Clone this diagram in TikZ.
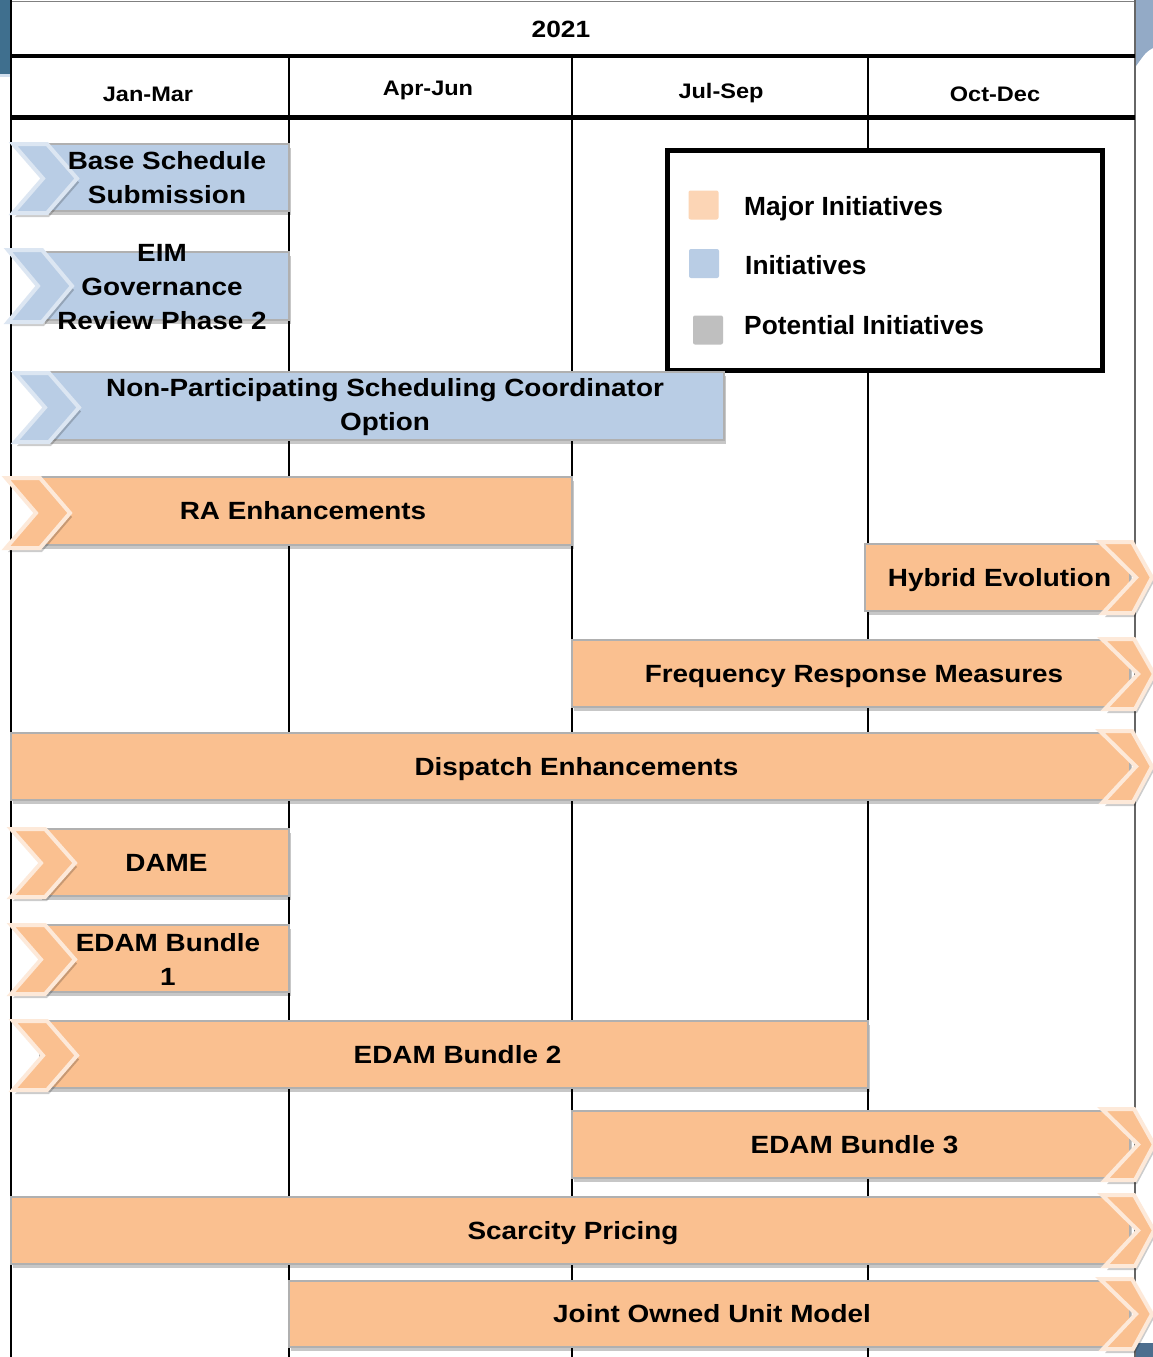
\documentclass[tikz,border=0pt]{standalone}
\usepackage{fontspec}
\setmainfont{Liberation Sans}
\newfontfamily\wideface[FakeStretch=1.12]{Liberation Sans}
\usetikzlibrary{shadows}
\definecolor{orbar}{HTML}{FAC090}
\definecolor{orlight}{HTML}{FDE9D9}
\definecolor{blbar}{HTML}{B9CDE5}
\definecolor{bllight}{HTML}{DCE6F2}
\definecolor{legor}{HTML}{FCD5B5}
\definecolor{leggr}{HTML}{BFBFBF}
\definecolor{bordgray}{HTML}{B0B0B0}
\definecolor{darkteal}{HTML}{3F6F8E}
\definecolor{swoosh}{HTML}{93AAC6}
\definecolor{darkblue}{HTML}{4D6E8E}
\newcommand{\lchev}[5]{\draw[chevron, fill=#4, draw=#5] (#1,#2) -- (#1+34,#2) -- (#1+64,{(#2+#3)/2}) -- (#1+34,#3) -- (#1,#3) -- (#1+30,{(#2+#3)/2}) -- cycle;}
\newcommand{\rchev}[5]{\draw[chevron, fill=#4, draw=#5] (#1,#2) -- (#1+32,#2) -- (#1+52,{(#2+#3)/2}) -- (#1+33,#3) -- (#1+3,#3) -- (#1+36,{(#2+#3)/2}) -- cycle;}
\begin{document}
\begin{tikzpicture}[x=1pt,y=-1pt,
  bar/.style={draw=bordgray, line width=1.2pt, inner sep=0pt,
    drop shadow={shadow xshift=2pt, shadow yshift=-4pt, opacity=0.22, fill=black}},
  orb/.style={bar, fill=orbar},
  blb/.style={bar, fill=blbar},
  chevron/.style={line width=4pt, line join=miter,
    drop shadow={shadow xshift=2pt, shadow yshift=-4pt, opacity=0.2, fill=black}},
  btxt/.style={font=\wideface\bfseries\fontsize{24.9}{34}\selectfont, align=center, inner sep=0pt},
  sline/.style={text height=17.8pt, text depth=0pt},
  htxt/.style={font=\wideface\bfseries\fontsize{21}{24}\selectfont, inner sep=0pt, text height=15pt, text depth=0pt},
  ltxt/.style={font=\bfseries\fontsize{26.3}{30}\selectfont, inner sep=0pt, anchor=west, text height=18.8pt, text depth=0pt},
  lsq/.style={rounded corners=2pt, minimum width=30, minimum height=29, inner sep=0pt},
  colline/.style={line width=2.5pt, black},
]
\useasboundingbox (0,0) rectangle (1153,1357);
\fill[white] (0,0) rectangle (1153,1357);

% corner decorations
\fill[darkteal] (0,0) rectangle (10,74);
\fill[bllight!70!blbar] (0,74) rectangle (10,77);
\fill[swoosh] (1136,0) -- (1153,0) -- (1153,48) .. controls (1146,52) .. (1136,66) -- cycle;
\fill[darkblue] (1136,1343) rectangle (1153,1357);

% table frame
\draw[line width=1pt, gray] (11,1) -- (1135,1);
\draw[line width=1.2pt, gray!80!black] (1135,0) -- (1135,1357);
\draw[line width=1.5pt, black] (11,0) -- (11,1357);
\draw[line width=4pt] (11,55.5) -- (1135,55.5);
\draw[line width=5pt] (11,117.5) -- (1135,117.5);
\draw[colline] (289,55.5) -- (289,1357);
\draw[colline] (572,55.5) -- (572,1357);
\draw[colline] (868,55.5) -- (868,1357);

% headers
\node[htxt, font=\wideface\bfseries\fontsize{23.5}{26}\selectfont, text height=16.8pt] (yr) at (561,29) {2021};
\node[htxt] (q1) at (148,94) {Jan-Mar};
\node[htxt] (q2) at (428,88) {Apr-Jun};
\node[htxt] (q3) at (721,91) {Jul-Sep};
\node[htxt] (q4) at (995,94) {Oct-Dec};

% legend
\node[draw, line width=5pt, fill=white, minimum width=435, minimum height=220, inner sep=0pt] (legend) at (884.5,260) {};
\node[lsq, fill=legor] (sq1) at (703.5,205) {};
\node[lsq, fill=blbar] (sq2) at (704,263.5) {};
\node[lsq, fill=leggr] (sq3) at (708,330) {};
\node[ltxt] (lt1) at (744,206) {Major Initiatives};
\node[ltxt] (lt2) at (745,265) {Initiatives};
\node[ltxt] (lt3) at (744,325) {Potential Initiatives};

% blue bars
\node[blb, minimum width=242, minimum height=67] (bss) at (168,177.5) {};
\lchev{13}{144}{213}{blbar}{bllight}
\node[btxt] (bss-t) at (167,178) {Base Schedule\\Submission};

\node[blb, minimum width=246, minimum height=68] (eim) at (166,286) {};
\lchev{8}{250}{322}{blbar}{bllight}
\node[btxt] (eim-t) at (162,287) {EIM\\Governance\\Review Phase 2};

\node[blb, minimum width=677, minimum height=68] (npsc) at (385.5,406) {};
\lchev{15}{373}{442}{blbar}{bllight}
\node[btxt] (npsc-t) at (385,407) {Non-Participating Scheduling Coordinator\\Option};

% orange bars
\node[orb, minimum width=537, minimum height=68] (ra) at (303.5,511) {};
\lchev{6}{478}{548}{orbar}{orlight}
\node[btxt, sline] (ra-t) at (303,511) {RA Enhancements};

\node[orb, minimum width=265, minimum height=67] (hyb) at (997.5,577.5) {};
\rchev{1100}{542}{613}{orbar}{orlight}
\node[btxt, sline] (hyb-t) at (999.5,578) {Hybrid Evolution};

\node[orb, minimum width=558, minimum height=67] (frm) at (851,673.5) {};
\rchev{1102}{639}{709}{orbar}{orlight}
\node[btxt, sline] (frm-t) at (854,674) {Frequency Response Measures};

\node[orb, minimum width=1119, minimum height=67] (dis) at (570.5,766.5) {};
\rchev{1100}{731}{802}{orbar}{orlight}
\node[btxt, sline] (dis-t) at (576.5,767) {Dispatch Enhancements};

\node[orb, minimum width=249, minimum height=67] (dame) at (164.5,862.5) {};
\lchev{11}{829}{897}{orbar}{orlight}
\node[btxt, sline] (dame-t) at (166.5,863) {DAME};

\node[orb, minimum width=249, minimum height=67] (e1) at (164.5,958.5) {};
\lchev{11}{925}{994}{orbar}{orlight}
\node[btxt] (e1-t) at (168,959) {EDAM Bundle\\1};

\node[orb, minimum width=828, minimum height=67] (e2) at (454,1054.5) {};
\lchev{13}{1021}{1090}{orbar}{orlight}
\node[btxt, sline] (e2-t) at (457.5,1055) {EDAM Bundle 2};

\node[orb, minimum width=558, minimum height=67] (e3) at (851,1144.5) {};
\rchev{1102}{1109}{1180}{orbar}{orlight}
\node[btxt, sline] (e3-t) at (854.5,1145) {EDAM Bundle 3};

\node[orb, minimum width=1119, minimum height=67] (sc) at (570.5,1230.5) {};
\rchev{1102}{1195}{1266}{orbar}{orlight}
\node[btxt, sline] (sc-t) at (573,1231) {Scarcity Pricing};

\node[orb, minimum width=841, minimum height=66] (joum) at (709.5,1314) {};
\rchev{1100}{1279}{1349}{orbar}{orlight}
\node[btxt, sline] (joum-t) at (712,1314) {Joint Owned Unit Model};
\end{tikzpicture}
\end{document}
